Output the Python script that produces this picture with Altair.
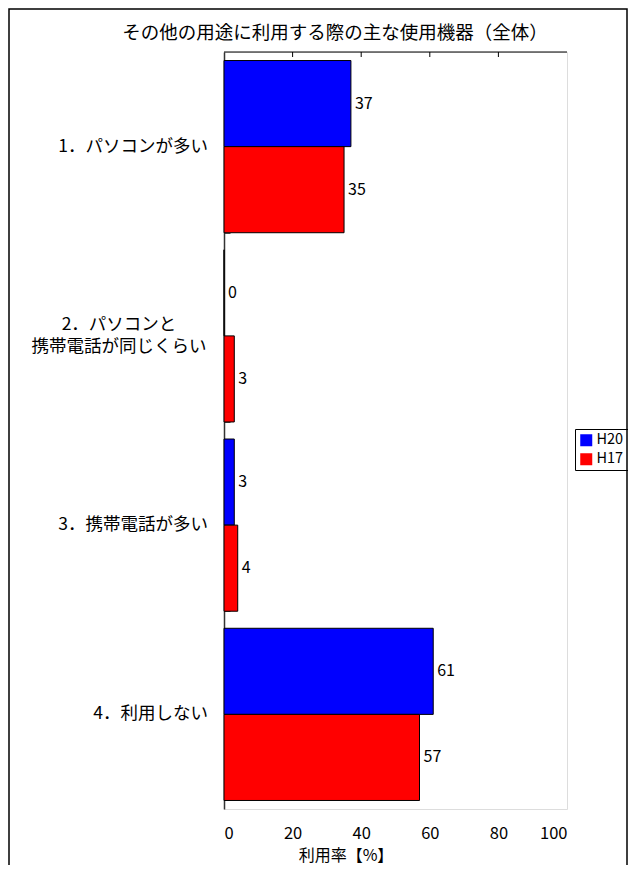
import altair as alt
import pandas as pd

categories = ["1．パソコンが多い", "2．パソコンと携帯電話が同じくらい", "3．携帯電話が多い", "4．利用しない"]
label_lines = [["1．パソコンが多い"], ["2．パソコンと", "携帯電話が同じくらい"], ["3．携帯電話が多い"], ["4．利用しない"]]
series = ["H20", "H17"]
h20 = [37, 0, 3, 61]
h17 = [35, 3, 4, 57]
top_ticks = [20, 40, 60, 80]
x_ticks = [0, 20, 40, 60, 80, 100]
chart_title = "その他の用途に利用する際の主な使用機器（全体）"
x_title = "利用率【%】"

FONT = "Noto Sans CJK JP"
W, H = 343, 757
PAD = {"left": 216, "top": 44, "right": 61, "bottom": 56}

rows = []
for c, a, b in zip(categories, h20, h17):
    rows.append({"category": c, "series": "H20", "value": a})
    rows.append({"category": c, "series": "H17", "value": b})
df = pd.DataFrame(rows)

ysc = alt.Scale(domain=categories, paddingInner=0.09, paddingOuter=0.045)
xsc = alt.Scale(domain=[0, 100], nice=False)

y_enc = alt.Y("category:N", scale=ysc, sort=categories,
              axis=alt.Axis(orient="right", offset=-W, labels=False, title=None,
                            domain=True, domainColor="#333333", domainWidth=1.5,
                            ticks=True, tickBand="extent", tickSize=6,
                            tickColor="#555555", grid=False))
yoff = alt.YOffset("series:N", sort=series, scale=alt.Scale(domain=series, paddingInner=0, paddingOuter=0))

bars = alt.Chart(df).mark_bar(stroke="black", strokeWidth=1).encode(
    x=alt.X("value:Q", scale=xsc,
            axis=alt.Axis(values=x_ticks, title=None, labelFont=FONT, labelFontSize=16.5,
                          labelColor="black", labelPadding=16, ticks=False, tickSize=0,
                          domain=False, grid=False)),
    y=y_enc,
    yOffset=yoff,
    color=alt.Color("series:N", sort=series,
                    scale=alt.Scale(domain=series, range=["#0000FF", "#FF0000"]),
                    legend=alt.Legend(orient="none", legendX=351, legendY=377, title=None,
                                      strokeColor="black", padding=4, symbolType="square",
                                      symbolSize=144, symbolStrokeWidth=0,
                                      labelFont=FONT, labelFontSize=14.5, labelColor="black",
                                      rowPadding=4, labelOffset=3)),
)

values = alt.Chart(df).mark_text(align="left", baseline="middle", dx=4, font=FONT,
                                 fontSize=16, color="black").encode(
    x=alt.X("value:Q", scale=xsc),
    y=alt.Y("category:N", scale=ysc, sort=categories),
    yOffset=yoff,
    text=alt.Text("value:Q"),
)

lab_df = pd.DataFrame({"category": categories, "lines": label_lines,
                       "n": [len(l) for l in label_lines]})

single = alt.Chart(lab_df).transform_filter("datum.n == 1").mark_text(
    align="right", baseline="middle", font=FONT, fontSize=17.5, color="black").encode(
    x=alt.value(-16),
    y=alt.Y("category:N", scale=ysc, sort=categories),
    text=alt.Text("lines:N"),
)
multi = alt.Chart(lab_df).transform_filter("datum.n > 1").mark_text(
    align="center", baseline="middle", font=FONT, fontSize=17.5, lineHeight=22, dy=-11,
    color="black").encode(
    x=alt.value(-105),
    y=alt.Y("category:N", scale=ysc, sort=categories),
    text=alt.Text("lines:N"),
)

one = pd.DataFrame({"a": [0]})
title_mark = alt.Chart(pd.DataFrame({"t": [chart_title]})).mark_text(
    align="center", baseline="middle", font=FONT, fontSize=18.5, color="black").encode(
    x=alt.value(111), y=alt.value(-19), text="t:N")
xtitle_mark = alt.Chart(pd.DataFrame({"t": [x_title]})).mark_text(
    align="center", baseline="middle", font=FONT, fontSize=16, color="black").encode(
    x=alt.value(122), y=alt.value(803.5), text="t:N")

tick_df = pd.DataFrame({"t": top_ticks})
top_tick_rules = alt.Chart(tick_df).mark_rule(color="black", strokeWidth=1).encode(
    x=alt.X("t:Q", scale=xsc), y=alt.value(0), y2=alt.value(5))
top_line = alt.Chart(one).mark_rule(color="black", strokeWidth=1).encode(
    x=alt.value(0), x2=alt.value(W), y=alt.value(0))
frame = alt.Chart(one).mark_rect(fill=None, stroke="black", strokeWidth=1.5).encode(
    x=alt.value(-PAD["left"] + 1), x2=alt.value(W + PAD["right"] - 1),
    y=alt.value(-PAD["top"] + 1), y2=alt.value(H + 80))

chart = alt.layer(frame, bars, values, single, multi, title_mark, xtitle_mark,
                  top_tick_rules, top_line).properties(
    width=W, height=H,
    padding=PAD,
    autosize=alt.AutoSizeParams(type="none"),
).configure_view(stroke="#808080", strokeWidth=1).configure(background="white")

chart.save("out.html", embed_options={"renderer": "svg", "actions": False})
